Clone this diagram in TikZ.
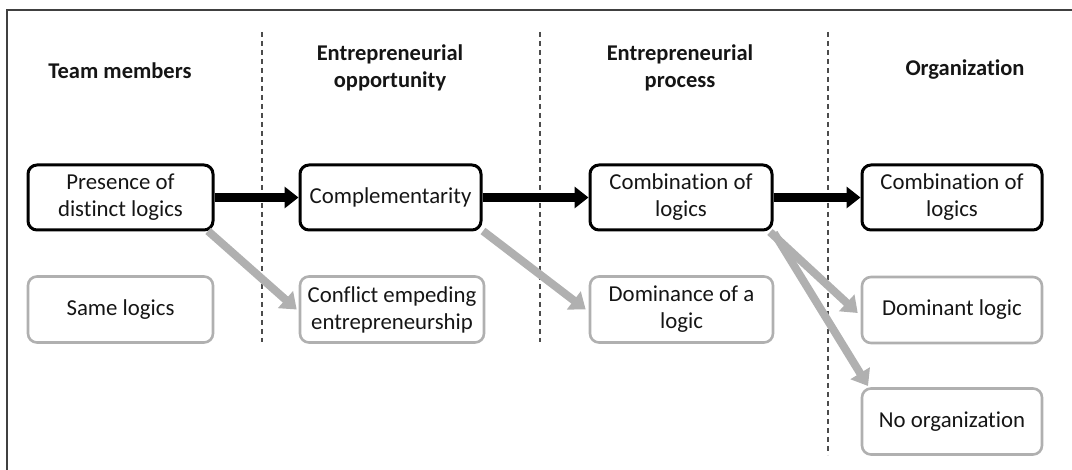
\documentclass[tikz,border=0pt]{standalone}
\usepackage{fontspec}
\setmainfont{Carlito}[Ligatures=NoCommon]
\usetikzlibrary{arrows.meta}
\definecolor{lgray}{HTML}{B0B0B0}
\definecolor{txt}{HTML}{151515}
\begin{document}
\begin{tikzpicture}[x=1pt,y=-1pt,
  every node/.style={font=\fontsize{22.8}{27}\selectfont,text=txt},
  mainbox/.style={draw=black,line width=3pt,rounded corners=9pt,minimum width=185pt,minimum height=65pt,align=center,inner sep=0pt},
  altbox/.style={draw=lgray,line width=2.6pt,rounded corners=9pt,minimum width=185pt,minimum height=66pt,align=center,inner sep=0pt},
  header/.style={font=\bfseries\fontsize{22.5}{27}\selectfont,align=center},
  divider/.style={line width=1.1pt,dash pattern=on 5pt off 4pt,color=black!70},
  strong/.style={line width=8.5pt,-{Triangle[length=14pt,width=21pt]}},
  weak/.style={draw=lgray,line width=8pt,-{Triangle[length=15pt,width=22pt]}}]
\useasboundingbox (0,0) rectangle (1072,470);
\draw[line width=1.1pt,color=black!75] (7,470) -- (7,10) -- (1072,10);
\draw[divider] (262,32) -- (262,342);
\draw[divider] (540,32) -- (540,342);
\draw[divider] (828,32) -- (828,455);
\node[header] (h1) at (120,71) {Team members};
\node[header] (h2) at (390,68) {Entrepreneurial\\opportunity};
\node[header] (h3) at (680,68) {Entrepreneurial\\process};
\node[header] (h4) at (965,70) {Organization};
\node[mainbox] (b1) at (120.5,197.5) {Presence of\\distinct logics};
\node[mainbox,minimum width=181pt] (b2) at (390.5,197.5) {Complementarity};
\node[mainbox,minimum width=182pt] (b3) at (681,197.5) {Combination of\\logics};
\node[mainbox,minimum width=180pt] (b4) at (952,197.5) {Combination of\\logics};
\node[altbox] (g1) at (120.5,309.5) {Same logics};
\node[altbox,minimum width=184pt] (g2) at (392,309.5) {Conflict empeding\\entrepreneurship};
\node[altbox,minimum width=183pt] (g3) at (681.5,309.5) {Dominance of a\\logic};
\node[altbox,minimum width=180pt] (g4) at (952,310) {Dominant logic};
\node[altbox,minimum width=180pt] (g5) at (952,421.5) {No organization};
\draw[strong] (b1.east) -- (b2.west);
\draw[strong] (b2.east) -- (b3.west);
\draw[strong] (b3.east) -- (b4.west);
\coordinate (s1) at (208,231);
\coordinate (s2) at (483,231);
\coordinate (s3) at (770,232);
\coordinate (s4) at (774,233);
\draw[weak] (s1) -- ([xshift=-2pt]g2.west);
\draw[weak] (s2) -- ([xshift=-3pt]g3.west);
\draw[weak] (s3) -- ([xshift=-3pt,yshift=-3pt]g4.west);
\draw[weak] (s4) -- (868,386);
\end{tikzpicture}
\end{document}
